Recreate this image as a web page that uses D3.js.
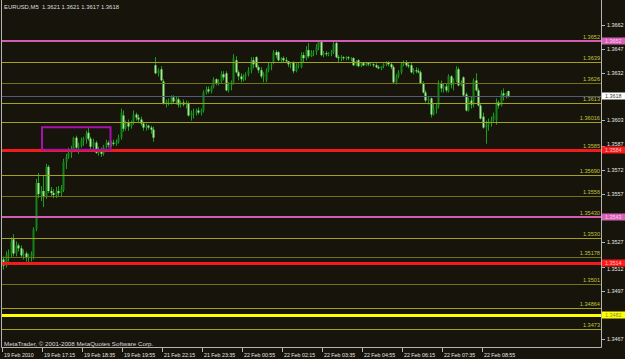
<!DOCTYPE html>
<html>
<head>
<meta charset="utf-8">
<script src="https://cdn.jsdelivr.net/npm/d3@7"></script>
<style>
  body { margin: 0; background: #16140b; }
  svg { display: block; font-family: "Liberation Sans", Arial, sans-serif; }
</style>
</head>
<body>
<div id="main"></div>
<script>
const ctx = { W: 625, H: 359, left: 2, right: 601, bottom: 347 };

// EURUSD M5 bars, 19 Feb 2010 15:55 -> 22 Feb 09:05
const barOpen = [
  1.35164, 1.35126, 1.35189, 1.35201, 1.35289, 1.35201, 1.35251, 1.35233, 1.35189, 1.35201,
  1.35176, 1.35183, 1.35183, 1.35351, 1.35639, 1.35570, 1.35589, 1.35551, 1.35739, 1.35589,
  1.35576, 1.35564, 1.35589, 1.35576, 1.35595, 1.35770, 1.35801, 1.35826, 1.35851, 1.35920,
  1.35858, 1.35870, 1.35901, 1.35914, 1.35951, 1.35914, 1.35864, 1.35889, 1.35826, 1.35839,
  1.35820, 1.35864, 1.35889, 1.35876, 1.35889, 1.35883, 1.35895, 1.35920, 1.36058, 1.35976,
  1.36014, 1.35989, 1.36014, 1.36064, 1.36045, 1.36033, 1.36008, 1.35983, 1.35995, 1.35983,
  1.35970, 1.36370, 1.36320, 1.36345, 1.36270, 1.36133, 1.36145, 1.36133, 1.36170, 1.36145,
  1.36158, 1.36126, 1.36139, 1.36126, 1.36133, 1.36058, 1.36070, 1.36076, 1.36089, 1.36076,
  1.36089, 1.36201, 1.36220, 1.36208, 1.36233, 1.36283, 1.36258, 1.36270, 1.36314, 1.36320,
  1.36214, 1.36245, 1.36264, 1.36401, 1.36326, 1.36301, 1.36283, 1.36301, 1.36314, 1.36339,
  1.36401, 1.36420, 1.36358, 1.36339, 1.36301, 1.36276, 1.36339, 1.36364, 1.36389, 1.36451,
  1.36451, 1.36401, 1.36414, 1.36401, 1.36395, 1.36376, 1.36389, 1.36333, 1.36370, 1.36358,
  1.36433, 1.36414, 1.36464, 1.36426, 1.36445, 1.36451, 1.36483, 1.36514, 1.36433, 1.36445,
  1.36439, 1.36445, 1.36451, 1.36508, 1.36420, 1.36414, 1.36420, 1.36414, 1.36420, 1.36414,
  1.36414, 1.36370, 1.36401, 1.36364, 1.36383, 1.36370, 1.36383, 1.36376, 1.36376, 1.36370,
  1.36358, 1.36351, 1.36364, 1.36376, 1.36389, 1.36376, 1.36358, 1.36264, 1.36301, 1.36326,
  1.36376, 1.36389, 1.36370, 1.36370, 1.36326, 1.36339, 1.36333, 1.36326, 1.36258, 1.36201,
  1.36151, 1.36164, 1.36064, 1.36101, 1.36114, 1.36258, 1.36226, 1.36239, 1.36208, 1.36301,
  1.36251, 1.36276, 1.36345, 1.36245, 1.36295, 1.36189, 1.36089, 1.36151, 1.36126, 1.36276,
  1.36214, 1.36120, 1.36051, 1.35983, 1.36001, 1.36020, 1.36033, 1.36026, 1.36139, 1.36120,
  1.36195, 1.36183, 1.36210
];
const barHigh = [
  1.35183, 1.35214, 1.35226, 1.35301, 1.35320, 1.35276, 1.35264, 1.35251, 1.35226, 1.35214,
  1.35201, 1.35214, 1.35364, 1.35664, 1.35701, 1.35620, 1.35683, 1.35758, 1.35751, 1.35614,
  1.35601, 1.35614, 1.35620, 1.35626, 1.35789, 1.35820, 1.35858, 1.35870, 1.35926, 1.35933,
  1.35889, 1.35920, 1.35926, 1.35964, 1.35983, 1.35926, 1.35914, 1.35901, 1.35864, 1.35858,
  1.35876, 1.35908, 1.35901, 1.35901, 1.35908, 1.35908, 1.35939, 1.36101, 1.36089, 1.36026,
  1.36033, 1.36026, 1.36089, 1.36076, 1.36064, 1.36051, 1.36020, 1.36008, 1.36001, 1.35995,
  1.35989, 1.36420, 1.36351, 1.36364, 1.36283, 1.36158, 1.36164, 1.36183, 1.36183, 1.36176,
  1.36170, 1.36151, 1.36158, 1.36151, 1.36145, 1.36089, 1.36101, 1.36101, 1.36108, 1.36101,
  1.36214, 1.36239, 1.36239, 1.36245, 1.36295, 1.36289, 1.36283, 1.36333, 1.36333, 1.36333,
  1.36264, 1.36276, 1.36439, 1.36426, 1.36339, 1.36320, 1.36314, 1.36326, 1.36358, 1.36420,
  1.36420, 1.36426, 1.36370, 1.36358, 1.36326, 1.36351, 1.36389, 1.36383, 1.36464, 1.36464,
  1.36458, 1.36420, 1.36426, 1.36420, 1.36395, 1.36389, 1.36395, 1.36383, 1.36389, 1.36451,
  1.36451, 1.36489, 1.36508, 1.36464, 1.36464, 1.36501, 1.36526, 1.36526, 1.36458, 1.36458,
  1.36451, 1.36464, 1.36514, 1.36514, 1.36433, 1.36433, 1.36426, 1.36426, 1.36426, 1.36420,
  1.36420, 1.36401, 1.36408, 1.36389, 1.36389, 1.36389, 1.36389, 1.36389, 1.36383, 1.36383,
  1.36370, 1.36364, 1.36383, 1.36395, 1.36395, 1.36389, 1.36370, 1.36314, 1.36339, 1.36389,
  1.36401, 1.36401, 1.36389, 1.36383, 1.36351, 1.36358, 1.36351, 1.36339, 1.36270, 1.36214,
  1.36176, 1.36170, 1.36133, 1.36133, 1.36276, 1.36276, 1.36258, 1.36258, 1.36314, 1.36308,
  1.36289, 1.36364, 1.36358, 1.36276, 1.36301, 1.36201, 1.36170, 1.36176, 1.36289, 1.36320,
  1.36226, 1.36133, 1.36076, 1.36026, 1.36039, 1.36051, 1.36076, 1.36164, 1.36151, 1.36214,
  1.36226, 1.36201, 1.36212
];
const barLow = [
  1.35101, 1.35114, 1.35151, 1.35176, 1.35183, 1.35183, 1.35214, 1.35176, 1.35164, 1.35151,
  1.35139, 1.35151, 1.35164, 1.35339, 1.35545, 1.35526, 1.35489, 1.35539, 1.35576, 1.35551,
  1.35545, 1.35545, 1.35558, 1.35551, 1.35583, 1.35726, 1.35789, 1.35795, 1.35839, 1.35851,
  1.35820, 1.35858, 1.35870, 1.35883, 1.35901, 1.35839, 1.35851, 1.35820, 1.35808, 1.35801,
  1.35808, 1.35851, 1.35858, 1.35864, 1.35870, 1.35870, 1.35883, 1.35908, 1.35958, 1.35964,
  1.35964, 1.35976, 1.36001, 1.36026, 1.36014, 1.35995, 1.35964, 1.35964, 1.35970, 1.35945,
  1.35895, 1.36314, 1.36301, 1.36270, 1.36126, 1.36108, 1.36120, 1.36126, 1.36133, 1.36126,
  1.36108, 1.36108, 1.36114, 1.36101, 1.36051, 1.36026, 1.36039, 1.36058, 1.36064, 1.36058,
  1.36076, 1.36189, 1.36195, 1.36195, 1.36226, 1.36245, 1.36245, 1.36258, 1.36276, 1.36208,
  1.36201, 1.36214, 1.36251, 1.36320, 1.36276, 1.36264, 1.36270, 1.36276, 1.36301, 1.36320,
  1.36351, 1.36351, 1.36320, 1.36289, 1.36264, 1.36264, 1.36326, 1.36339, 1.36376, 1.36414,
  1.36395, 1.36383, 1.36389, 1.36383, 1.36358, 1.36351, 1.36320, 1.36326, 1.36351, 1.36351,
  1.36389, 1.36401, 1.36414, 1.36420, 1.36426, 1.36433, 1.36464, 1.36426, 1.36420, 1.36426,
  1.36426, 1.36426, 1.36439, 1.36414, 1.36389, 1.36395, 1.36401, 1.36401, 1.36401, 1.36395,
  1.36364, 1.36364, 1.36358, 1.36358, 1.36364, 1.36364, 1.36364, 1.36364, 1.36358, 1.36351,
  1.36345, 1.36339, 1.36351, 1.36364, 1.36364, 1.36345, 1.36258, 1.36251, 1.36289, 1.36314,
  1.36364, 1.36358, 1.36351, 1.36320, 1.36314, 1.36320, 1.36320, 1.36251, 1.36195, 1.36139,
  1.36126, 1.36045, 1.36058, 1.36070, 1.36101, 1.36201, 1.36201, 1.36201, 1.36201, 1.36226,
  1.36214, 1.36264, 1.36239, 1.36239, 1.36176, 1.36083, 1.36083, 1.36101, 1.36108, 1.36208,
  1.36114, 1.36033, 1.35976, 1.35883, 1.35964, 1.35989, 1.36020, 1.36001, 1.36101, 1.36114,
  1.36151, 1.36164, 1.36170
];
const barClose = [
  1.35126, 1.35189, 1.35201, 1.35276, 1.35201, 1.35251, 1.35233, 1.35189, 1.35201, 1.35176,
  1.35183, 1.35195, 1.35351, 1.35639, 1.35570, 1.35589, 1.35551, 1.35739, 1.35589, 1.35576,
  1.35564, 1.35589, 1.35576, 1.35601, 1.35770, 1.35801, 1.35826, 1.35851, 1.35920, 1.35858,
  1.35870, 1.35901, 1.35914, 1.35945, 1.35914, 1.35864, 1.35895, 1.35826, 1.35839, 1.35820,
  1.35864, 1.35889, 1.35876, 1.35889, 1.35883, 1.35895, 1.35920, 1.36076, 1.35976, 1.36014,
  1.35989, 1.36014, 1.36064, 1.36045, 1.36033, 1.36008, 1.35983, 1.35995, 1.35983, 1.35970,
  1.35920, 1.36320, 1.36339, 1.36276, 1.36133, 1.36145, 1.36151, 1.36170, 1.36145, 1.36158,
  1.36126, 1.36139, 1.36126, 1.36133, 1.36058, 1.36070, 1.36076, 1.36089, 1.36076, 1.36089,
  1.36201, 1.36220, 1.36208, 1.36233, 1.36283, 1.36258, 1.36270, 1.36314, 1.36295, 1.36214,
  1.36245, 1.36264, 1.36414, 1.36326, 1.36301, 1.36283, 1.36301, 1.36314, 1.36339, 1.36401,
  1.36376, 1.36358, 1.36339, 1.36301, 1.36314, 1.36339, 1.36364, 1.36370, 1.36451, 1.36433,
  1.36401, 1.36414, 1.36401, 1.36395, 1.36376, 1.36383, 1.36333, 1.36370, 1.36376, 1.36433,
  1.36414, 1.36464, 1.36426, 1.36445, 1.36451, 1.36483, 1.36514, 1.36433, 1.36445, 1.36439,
  1.36445, 1.36451, 1.36501, 1.36420, 1.36414, 1.36420, 1.36414, 1.36420, 1.36414, 1.36414,
  1.36370, 1.36395, 1.36364, 1.36383, 1.36370, 1.36383, 1.36376, 1.36383, 1.36370, 1.36358,
  1.36351, 1.36364, 1.36376, 1.36389, 1.36376, 1.36358, 1.36264, 1.36301, 1.36326, 1.36376,
  1.36389, 1.36370, 1.36364, 1.36326, 1.36339, 1.36333, 1.36326, 1.36258, 1.36201, 1.36151,
  1.36164, 1.36064, 1.36101, 1.36114, 1.36258, 1.36226, 1.36239, 1.36214, 1.36301, 1.36251,
  1.36276, 1.36345, 1.36245, 1.36264, 1.36183, 1.36089, 1.36151, 1.36126, 1.36276, 1.36214,
  1.36120, 1.36039, 1.35983, 1.36001, 1.36020, 1.36033, 1.36058, 1.36139, 1.36120, 1.36195,
  1.36183, 1.36195, 1.36180
];

// time axis: one label every 16 bars
const timeTickBars = [0, 16, 32, 48, 64, 80, 96, 112, 128, 144, 160, 176, 192];
const timeTickLabels = ["19 Feb 2010", "19 Feb 17:15", "19 Feb 18:35", "19 Feb 19:55",
  "21 Feb 22:15", "21 Feb 23:35", "22 Feb 00:55", "22 Feb 02:15", "22 Feb 03:35",
  "22 Feb 04:55", "22 Feb 06:15", "22 Feb 07:35", "22 Feb 08:55"];

// price axis
const priceTicks = [1.3662, 1.3647, 1.3632, 1.3617, 1.3603, 1.3587, 1.3572, 1.3557,
  1.3542, 1.3527, 1.3512, 1.3497, 1.3482, 1.3467];

// horizontal lines drawn on the chart
const levelPrices = [1.3652, 1.3639, 1.3626, 1.36135, 1.36016, 1.35845, 1.3569, 1.3556,
  1.3543, 1.3530, 1.35178, 1.3514, 1.3501, 1.34864, 1.3482, 1.3473, 1.3458];
const levelLabels = ["1.3652", "1.3639", "1.3626", "1.3613", "1.36016", "1.3585", "1.35690", "1.3556",
  "1.35430", "1.3530", "1.35178", "", "1.3501", "1.34864", "", "1.3473", "1.3458"];
const levelKinds = ["pink", "olive", "dim", "olive", "olive", "red", "olive", "dim",
  "pink", "olive", "dim", "red", "dim", "olive", "yellow", "olive", "olive"];

// price tags on the right scale
const tagPrices = [1.3652, 1.3618, 1.35845, 1.3543, 1.3514, 1.3482];
const tagLabels = ["1.3652", "1.3618", "1.3584", "1.3543", "1.3514", "1.3482"];
const tagKinds = ["pink", "bid", "red", "pink", "red", "yellow"];

// rectangle object (bar index range, price range)
const boxBars = [15.6, 43];
const boxPrices = [1.35985, 1.35845];

const lineStyle = {
  pink:   { stroke: "#d25cb2", width: 2 },
  red:    { stroke: "#f01c1c", width: 3 },
  yellow: { stroke: "#ffff00", width: 3 },
  olive:  { stroke: "#a2a21c", width: 1 },
  dim:    { stroke: "#737314", width: 1 }
};
const tagStyle = {
  pink:   { fill: "#d862b8", text: "#f4d0ec" },
  red:    { fill: "#ff1a1a", text: "#ffc8c8" },
  yellow: { fill: "#ffff00", text: "#8a8a50" },
  bid:    { fill: "#ffffff", text: "#404040" }
};
const TAG_UP = 3.5, TAG_DOWN = 3.5;

function draw() {
  const svg = d3.select("#main").append("svg")
    .attr("width", ctx.W)
    .attr("height", ctx.H);

  svg.append("rect").attr("width", ctx.W).attr("height", ctx.H).attr("fill", "#16140b");

  svg.append("defs").append("clipPath").attr("id", "plotClip")
    .append("rect")
    .attr("x", ctx.left).attr("y", 0)
    .attr("width", ctx.right - ctx.left).attr("height", ctx.bottom);

  const n = barClose.length;
  const x = d3.scaleLinear().domain([0, n - 1]).range([3, 508]);
  const y = d3.scaleLinear().domain([1.3467, 1.3662]).range([339, 25]);

  const bars = d3.range(n).map(i => ({
    i: i, o: barOpen[i], h: barHigh[i], l: barLow[i], c: barClose[i]
  }));

  const plot = svg.append("g").attr("clip-path", "url(#plotClip)");

  // candles
  const cx = d => Math.round(x(d.i)) + 0.5;
  plot.append("g").selectAll("line")
    .data(bars)
    .join("line")
    .attr("x1", cx).attr("x2", cx)
    .attr("y1", d => y(d.h)).attr("y2", d => y(d.l))
    .attr("stroke", "#1c9f1c")
    .attr("stroke-width", 1);

  plot.append("g").selectAll("rect")
    .data(bars)
    .join("rect")
    .attr("x", d => cx(d) - 1)
    .attr("width", 2)
    .attr("y", d => y(Math.max(d.o, d.c)))
    .attr("height", d => Math.max(1, Math.abs(y(d.o) - y(d.c))))
    .attr("fill", d => d.c >= d.o ? "#13831a" : "#9aee8c");

  // horizontal lines
  const levels = levelPrices.map((p, k) => ({ p: p, label: levelLabels[k], kind: levelKinds[k] }));
  const py = d => {
    const w = lineStyle[d.kind].width;
    const v = Math.round(y(d.p));
    return w % 2 ? v + 0.5 : v;
  };
  plot.append("g").selectAll("line")
    .data(levels)
    .join("line")
    .attr("x1", ctx.left).attr("x2", ctx.right)
    .attr("y1", py).attr("y2", py)
    .attr("stroke", d => lineStyle[d.kind].stroke)
    .attr("stroke-width", d => lineStyle[d.kind].width);

  plot.append("g").selectAll("text")
    .data(levels.filter(d => d.label))
    .join("text")
    .attr("x", 600)
    .attr("y", d => Math.round(y(d.p)) - 2)
    .attr("text-anchor", "end")
    .attr("font-size", 5.6)
    .attr("fill", "#c4c43a")
    .text(d => d.label);

  // bid line
  const bid = barClose[n - 1];
  plot.append("line")
    .attr("x1", ctx.left).attr("x2", ctx.right)
    .attr("y1", Math.round(y(bid)) + 0.5).attr("y2", Math.round(y(bid)) + 0.5)
    .attr("stroke", "#535a76").attr("stroke-width", 1);

  // rectangle object
  plot.append("rect")
    .attr("x", x(boxBars[0]))
    .attr("y", y(boxPrices[0]))
    .attr("width", x(boxBars[1]) - x(boxBars[0]))
    .attr("height", y(boxPrices[1]) - y(boxPrices[0]))
    .attr("fill", "none")
    .attr("stroke", "#a812aa")
    .attr("stroke-width", 2);

  // frame
  svg.append("path")
    .attr("d", `M${ctx.left - 0.5},0V${ctx.bottom + 0.5}H${ctx.right + 0.5}V0`)
    .attr("fill", "none")
    .attr("stroke", "#b4b4b4")
    .attr("stroke-width", 1);

  // price scale: labels under a tag are hidden, labels next to one sit clear of it
  const tagYs = tagPrices.map(p => Math.round(y(p)));
  const labelBase = p => {
    const ty = Math.round(y(p));
    let base = ty + 2;
    tagYs.forEach(t => {
      if (Math.abs(t - ty) < 8) {
        if (ty < t) base = Math.min(base, t - TAG_UP - 0.2);
        else base = Math.max(base, t + TAG_DOWN + 4.2);
      }
    });
    return base;
  };
  const hidden = p => tagYs.some(t => Math.abs(t - y(p)) < 3);
  const pAxis = svg.append("g");
  pAxis.selectAll("line")
    .data(priceTicks)
    .join("line")
    .attr("x1", 602).attr("x2", 605)
    .attr("y1", d => Math.round(y(d)) + 0.5).attr("y2", d => Math.round(y(d)) + 0.5)
    .attr("stroke", "#b4b4b4");
  pAxis.selectAll("text")
    .data(priceTicks.filter(p => !hidden(p)))
    .join("text")
    .attr("x", 607)
    .attr("y", labelBase)
    .attr("font-size", 5.4)
    .attr("fill", "#e6e6e6")
    .text(d => d.toFixed(4));

  const tags = tagPrices.map((p, k) => ({ p: p, label: tagLabels[k], kind: tagKinds[k] }));
  const tagG = svg.append("g").selectAll("g")
    .data(tags)
    .join("g")
    .attr("transform", d => `translate(602,${Math.round(y(d.p))})`);
  tagG.append("rect")
    .attr("x", 0).attr("y", -TAG_UP).attr("width", 23).attr("height", TAG_UP + TAG_DOWN)
    .attr("fill", d => tagStyle[d.kind].fill);
  tagG.append("text")
    .attr("x", 3).attr("y", 2)
    .attr("font-size", 5.4)
    .attr("fill", d => tagStyle[d.kind].text)
    .text(d => d.label);

  // time scale
  const tAxis = svg.append("g");
  tAxis.selectAll("line")
    .data(timeTickBars)
    .join("line")
    .attr("x1", d => Math.round(x(d)) - 0.5).attr("x2", d => Math.round(x(d)) - 0.5)
    .attr("y1", ctx.bottom).attr("y2", ctx.bottom + 5)
    .attr("stroke", "#b4b4b4");
  tAxis.selectAll("text")
    .data(timeTickBars)
    .join("text")
    .attr("x", d => Math.round(x(d)) + 1)
    .attr("y", 356.5)
    .attr("font-size", 5.3)
    .attr("fill", "#e6e6e6")
    .text((d, k) => timeTickLabels[k]);

  // captions
  const last = n - 1;
  svg.append("text")
    .attr("x", 4).attr("y", 9)
    .attr("font-size", 5.9)
    .attr("fill", "#dcdcdc")
    .attr("xml:space", "preserve")
    .text("EURUSD,M5  " + [barOpen[last], barHigh[last], barLow[last], barClose[last]]
      .map(v => v.toFixed(4)).join(" "));

  svg.append("text")
    .attr("x", 4).attr("y", 345.5)
    .attr("font-size", 6.2)
    .attr("fill", "#dcdcdc")
    .text("MetaTrader, \u00a9 2001-2008 MetaQuotes Software Corp.");
}

draw();
</script>
</body>
</html>
